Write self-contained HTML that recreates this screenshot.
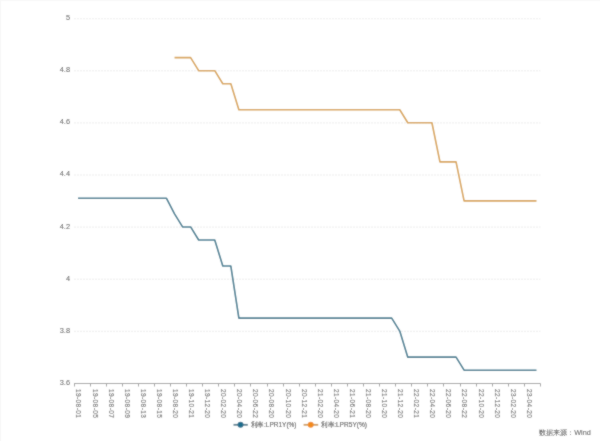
<!DOCTYPE html>
<html><head><meta charset="utf-8"><style>
html,body{margin:0;padding:0;background:#fff;}
body{width:600px;height:441px;overflow:hidden;position:relative;}
svg{position:absolute;left:0;top:0;display:block;}
text{font-family:"Liberation Sans",sans-serif;}
.grid{stroke:#ececec;stroke-width:1;stroke-dasharray:2 1;}
.axis{stroke:#a2a2a2;stroke-width:1;fill:none;}
.yl{font-size:7.4px;fill:#666;stroke:#666;stroke-width:0.08px;text-anchor:end;}
.xl{font-size:7.6px;fill:#6e6e6e;stroke:#6e6e6e;stroke-width:0.15px;letter-spacing:0.45px;}
.l1{fill:none;stroke:#417b90;stroke-width:1.6;stroke-linejoin:round;}
.l5{fill:none;stroke:#d8a456;stroke-width:1.6;stroke-linejoin:round;}
.lg{font-size:7px;fill:#5a5a5a;stroke:#5a5a5a;stroke-width:0.12px;}
.src{font-size:7.2px;fill:#5e5e5e;stroke:#5e5e5e;stroke-width:0.08px;}
</style></head><body>

<svg width="600" height="441" viewBox="0 0 600 441">
<defs><filter id="soft" x="0" y="0" width="600" height="441" filterUnits="userSpaceOnUse"><feConvolveMatrix order="3" kernelMatrix="1 2 1 2 16 2 1 2 1" divisor="28" edgeMode="duplicate"/></filter></defs>
<g filter="url(#soft)">
<rect x="0" y="0" width="600" height="441" fill="#fff"/>
<rect x="0" y="0" width="600" height="1" fill="#f8f8f8"/>
<rect x="0" y="1" width="1" height="440" fill="#f7f7f7"/>
<line x1="74.0" y1="18.75" x2="540.5" y2="18.75" class="grid"/>
<line x1="74.0" y1="70.84" x2="540.5" y2="70.84" class="grid"/>
<line x1="74.0" y1="122.92" x2="540.5" y2="122.92" class="grid"/>
<line x1="74.0" y1="175.01" x2="540.5" y2="175.01" class="grid"/>
<line x1="74.0" y1="227.09" x2="540.5" y2="227.09" class="grid"/>
<line x1="74.0" y1="279.18" x2="540.5" y2="279.18" class="grid"/>
<line x1="74.0" y1="331.26" x2="540.5" y2="331.26" class="grid"/>
<text transform="translate(70.0,20.20)" class="yl">5</text>
<text transform="translate(70.0,72.29)" class="yl">4.8</text>
<text transform="translate(70.0,124.37)" class="yl">4.6</text>
<text transform="translate(70.0,176.46)" class="yl">4.4</text>
<text transform="translate(70.0,228.54)" class="yl">4.2</text>
<text transform="translate(70.0,280.63)" class="yl">4</text>
<text transform="translate(70.0,332.71)" class="yl">3.8</text>
<text transform="translate(70.0,384.80)" class="yl">3.6</text>
<line x1="74.0" y1="383.5" x2="540.5" y2="383.5" class="axis"/>
<line x1="74.5" y1="383.5" x2="74.5" y2="386.5" class="axis"/>
<line x1="90.5" y1="383.5" x2="90.5" y2="386.5" class="axis"/>
<line x1="106.5" y1="383.5" x2="106.5" y2="386.5" class="axis"/>
<line x1="122.5" y1="383.5" x2="122.5" y2="386.5" class="axis"/>
<line x1="138.5" y1="383.5" x2="138.5" y2="386.5" class="axis"/>
<line x1="154.5" y1="383.5" x2="154.5" y2="386.5" class="axis"/>
<line x1="170.5" y1="383.5" x2="170.5" y2="386.5" class="axis"/>
<line x1="186.5" y1="383.5" x2="186.5" y2="386.5" class="axis"/>
<line x1="202.5" y1="383.5" x2="202.5" y2="386.5" class="axis"/>
<line x1="218.5" y1="383.5" x2="218.5" y2="386.5" class="axis"/>
<line x1="234.5" y1="383.5" x2="234.5" y2="386.5" class="axis"/>
<line x1="250.5" y1="383.5" x2="250.5" y2="386.5" class="axis"/>
<line x1="267.5" y1="383.5" x2="267.5" y2="386.5" class="axis"/>
<line x1="283.5" y1="383.5" x2="283.5" y2="386.5" class="axis"/>
<line x1="299.5" y1="383.5" x2="299.5" y2="386.5" class="axis"/>
<line x1="315.5" y1="383.5" x2="315.5" y2="386.5" class="axis"/>
<line x1="331.5" y1="383.5" x2="331.5" y2="386.5" class="axis"/>
<line x1="347.5" y1="383.5" x2="347.5" y2="386.5" class="axis"/>
<line x1="363.5" y1="383.5" x2="363.5" y2="386.5" class="axis"/>
<line x1="379.5" y1="383.5" x2="379.5" y2="386.5" class="axis"/>
<line x1="395.5" y1="383.5" x2="395.5" y2="386.5" class="axis"/>
<line x1="411.5" y1="383.5" x2="411.5" y2="386.5" class="axis"/>
<line x1="427.5" y1="383.5" x2="427.5" y2="386.5" class="axis"/>
<line x1="443.5" y1="383.5" x2="443.5" y2="386.5" class="axis"/>
<line x1="460.5" y1="383.5" x2="460.5" y2="386.5" class="axis"/>
<line x1="476.5" y1="383.5" x2="476.5" y2="386.5" class="axis"/>
<line x1="492.5" y1="383.5" x2="492.5" y2="386.5" class="axis"/>
<line x1="508.5" y1="383.5" x2="508.5" y2="386.5" class="axis"/>
<line x1="524.5" y1="383.5" x2="524.5" y2="386.5" class="axis"/>
<line x1="540.5" y1="383.5" x2="540.5" y2="386.5" class="axis"/>
<text transform="translate(76.42,389.0) rotate(90) scale(0.86,1)" class="xl">19-08-01</text>
<text transform="translate(92.51,389.0) rotate(90) scale(0.86,1)" class="xl">19-08-05</text>
<text transform="translate(108.59,389.0) rotate(90) scale(0.86,1)" class="xl">19-08-07</text>
<text transform="translate(124.68,389.0) rotate(90) scale(0.86,1)" class="xl">19-08-09</text>
<text transform="translate(140.77,389.0) rotate(90) scale(0.86,1)" class="xl">19-08-13</text>
<text transform="translate(156.85,389.0) rotate(90) scale(0.86,1)" class="xl">19-08-15</text>
<text transform="translate(172.94,389.0) rotate(90) scale(0.86,1)" class="xl">19-08-20</text>
<text transform="translate(189.03,389.0) rotate(90) scale(0.86,1)" class="xl">19-10-21</text>
<text transform="translate(205.11,389.0) rotate(90) scale(0.86,1)" class="xl">19-12-20</text>
<text transform="translate(221.20,389.0) rotate(90) scale(0.86,1)" class="xl">20-02-20</text>
<text transform="translate(237.28,389.0) rotate(90) scale(0.86,1)" class="xl">20-04-20</text>
<text transform="translate(253.37,389.0) rotate(90) scale(0.86,1)" class="xl">20-06-22</text>
<text transform="translate(269.46,389.0) rotate(90) scale(0.86,1)" class="xl">20-08-20</text>
<text transform="translate(285.54,389.0) rotate(90) scale(0.86,1)" class="xl">20-10-20</text>
<text transform="translate(301.63,389.0) rotate(90) scale(0.86,1)" class="xl">20-12-21</text>
<text transform="translate(317.71,389.0) rotate(90) scale(0.86,1)" class="xl">21-02-20</text>
<text transform="translate(333.80,389.0) rotate(90) scale(0.86,1)" class="xl">21-04-20</text>
<text transform="translate(349.89,389.0) rotate(90) scale(0.86,1)" class="xl">21-06-21</text>
<text transform="translate(365.97,389.0) rotate(90) scale(0.86,1)" class="xl">21-08-20</text>
<text transform="translate(382.06,389.0) rotate(90) scale(0.86,1)" class="xl">21-10-20</text>
<text transform="translate(398.15,389.0) rotate(90) scale(0.86,1)" class="xl">21-12-20</text>
<text transform="translate(414.23,389.0) rotate(90) scale(0.86,1)" class="xl">22-02-21</text>
<text transform="translate(430.32,389.0) rotate(90) scale(0.86,1)" class="xl">22-04-20</text>
<text transform="translate(446.40,389.0) rotate(90) scale(0.86,1)" class="xl">22-06-20</text>
<text transform="translate(462.49,389.0) rotate(90) scale(0.86,1)" class="xl">22-08-22</text>
<text transform="translate(478.58,389.0) rotate(90) scale(0.86,1)" class="xl">22-10-20</text>
<text transform="translate(494.66,389.0) rotate(90) scale(0.86,1)" class="xl">22-12-20</text>
<text transform="translate(510.75,389.0) rotate(90) scale(0.86,1)" class="xl">23-02-20</text>
<text transform="translate(526.84,389.0) rotate(90) scale(0.86,1)" class="xl">23-04-20</text>
<polyline points="78.02,198.30 86.06,198.30 94.11,198.30 102.15,198.30 110.19,198.30 118.24,198.30 126.28,198.30 134.32,198.30 142.37,198.30 150.41,198.30 158.45,198.30 166.50,198.30 174.54,213.92 182.58,226.94 190.62,226.94 198.67,239.96 206.71,239.96 214.75,239.96 222.80,266.01 230.84,266.01 238.88,318.09 246.93,318.09 254.97,318.09 263.01,318.09 271.06,318.09 279.10,318.09 287.14,318.09 295.19,318.09 303.23,318.09 311.27,318.09 319.31,318.09 327.36,318.09 335.40,318.09 343.44,318.09 351.49,318.09 359.53,318.09 367.57,318.09 375.62,318.09 383.66,318.09 391.70,318.09 399.75,331.11 407.79,357.16 415.83,357.16 423.87,357.16 431.92,357.16 439.96,357.16 448.00,357.16 456.05,357.16 464.09,370.18 472.13,370.18 480.18,370.18 488.22,370.18 496.26,370.18 504.31,370.18 512.35,370.18 520.39,370.18 528.44,370.18 536.48,370.18" class="l1"/>
<polyline points="174.54,57.66 182.58,57.66 190.62,57.66 198.67,70.69 206.71,70.69 214.75,70.69 222.80,83.71 230.84,83.71 238.88,109.75 246.93,109.75 254.97,109.75 263.01,109.75 271.06,109.75 279.10,109.75 287.14,109.75 295.19,109.75 303.23,109.75 311.27,109.75 319.31,109.75 327.36,109.75 335.40,109.75 343.44,109.75 351.49,109.75 359.53,109.75 367.57,109.75 375.62,109.75 383.66,109.75 391.70,109.75 399.75,109.75 407.79,122.77 415.83,122.77 423.87,122.77 431.92,122.77 439.96,161.84 448.00,161.84 456.05,161.84 464.09,200.90 472.13,200.90 480.18,200.90 488.22,200.90 496.26,200.90 504.31,200.90 512.35,200.90 520.39,200.90 528.44,200.90 536.48,200.90" class="l5"/>
<line x1="233.5" y1="424.8" x2="247.8" y2="424.8" stroke="#5a7e8e" stroke-width="1.8"/>
<circle cx="240.5" cy="424.8" r="3.0" fill="#1f6d8d"/>
<text x="251" y="426.7" class="lg" textLength="45.5" lengthAdjust="spacingAndGlyphs">利率:LPR1Y(%)</text>
<line x1="303.6" y1="424.8" x2="318.2" y2="424.8" stroke="#cf9c5e" stroke-width="1.8"/>
<circle cx="310.7" cy="424.8" r="3.0" fill="#f28b1e"/>
<text x="321" y="426.7" class="lg" textLength="46" lengthAdjust="spacingAndGlyphs">利率:LPR5Y(%)</text>
<text x="538.8" y="435.4" class="src" textLength="52" lengthAdjust="spacingAndGlyphs">数据来源：Wind</text>
</g>
</svg>
</body></html>
